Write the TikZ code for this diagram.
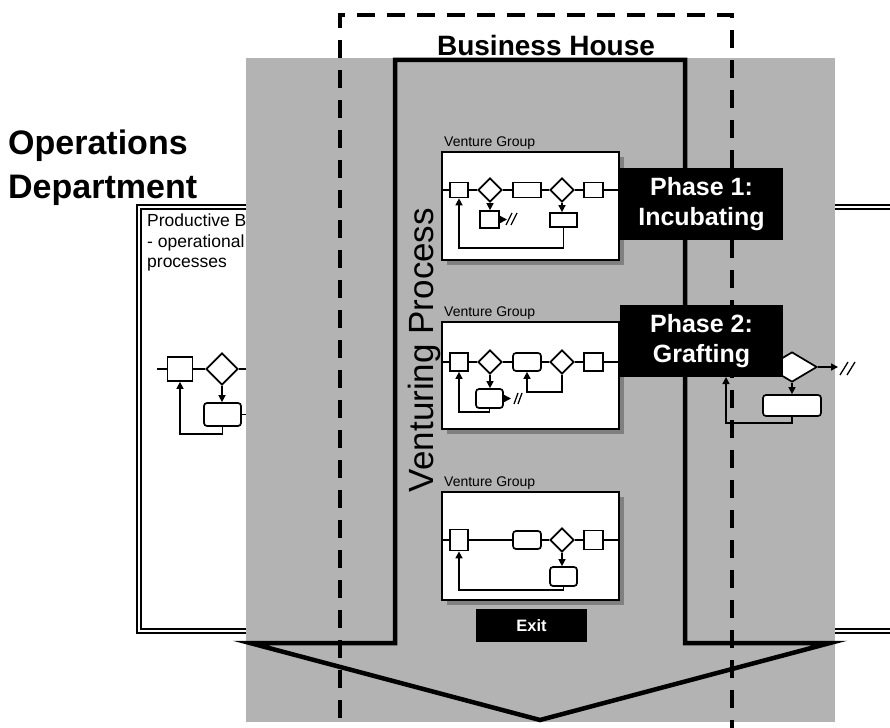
\documentclass[tikz,border=0pt]{standalone}
\usepackage{fontspec}
\setmainfont{Liberation Sans}
\usetikzlibrary{arrows.meta,shapes.geometric}
\definecolor{bggray}{RGB}{179,179,179}
\definecolor{shgray}{RGB}{128,128,128}
\newcommand{\fsz}[2]{\fontsize{#1}{#2}\selectfont}
\begin{document}
\begin{tikzpicture}[x=1pt,y=-1pt,
  con/.style={line width=1.4pt},
  arr/.style={line width=1.4pt,-{Triangle[length=7pt,width=7pt]}},
  el/.style={draw,fill=white,line width=1.7pt,inner sep=0pt,rectangle},
  rel/.style={el,rounded corners=3pt},
  dia/.style={draw,fill=white,line width=1.7pt,inner sep=0pt,diamond,minimum width=24pt,minimum height=24pt},
  vgbox/.style={draw,fill=white,line width=2.2pt,inner sep=0pt,minimum width=177pt},
  blk/.style={fill=black,text=white,inner sep=0pt,align=center},
  vglabel/.style={anchor=base west,inner sep=0pt,font=\fsz{14}{16}},
  sl/.style={line width=1.3pt}
]
\clip (0,0) rectangle (890,727);
\fill[white] (0,0) rectangle (890,727);

% ---------- Operations department box ----------
\draw[line width=1.8pt,double=white,double distance=1.8pt] (139,207) rectangle (905,631);
\node[anchor=north west,inner sep=0pt,align=left,font=\fsz{17.5}{20.5}] (pbase) at (147,214)
  {Productive Base:\\- operational\\processes};

% left process
\coordinate (lin) at (157,369);
\node[el,minimum width=25pt,minimum height=24pt] (ls) at (180,369) {};
\node[dia,minimum width=32pt,minimum height=32pt] (ld) at (222,369) {};
\node[rel,minimum width=37pt,minimum height=23pt] (lb) at (222.5,414.5) {};
\coordinate (lout) at (262,369);
\coordinate (lbo) at (253,414.5);
\draw[con] (lin) -- (ls.west);
\draw[con] (ls.east) -- (ld.west);
\draw[con] (ld.east) -- (lout);
\draw[arr] (ld.south) -- (ld.south |- lb.north);
\draw[arr] (lb.east) -- (lbo);
\draw[arr] (lb.south) -- ++(0,7) -| (ls.south);

% ---------- gray band ----------
\fill[bggray] (246,58) rectangle (835,722);

% ---------- Business house arrow ----------
\draw[line width=4.5pt,fill=bggray,miter limit=12] (395,60) -- (685,60) -- (685,643) -- (830,643)
  -- (540,720) -- (250,643) -- (395,643) -- cycle;

% ---------- Venture group 1 ----------
\fill[shgray] (447,157) rectangle (624,265);
\node[vgbox,minimum height=108pt] (vg1) at (530.5,206) {};
\node[vglabel] (vgl1) at (444,146.5) {Venture Group};
\node[el,minimum width=18pt,minimum height=15pt] (a1) at (459,190) {};
\node[dia] (a2) at (490,190) {};
\node[el,minimum width=28pt,minimum height=15pt] (a3) at (527,190) {};
\node[dia] (a4) at (562,190) {};
\node[el,minimum width=19pt,minimum height=15pt] (a5) at (593.5,190) {};
\node[el,minimum width=19pt,minimum height=17pt] (a6) at (489.5,219.5) {};
\node[el,minimum width=27pt,minimum height=14pt] (a7) at (563.5,220) {};
\coordinate (a6o) at (507,219.5);
\draw[con] (vg1.west |- a1.west) -- (a1.west);
\draw[con] (a1.east) -- (a2.west);
\draw[con] (a2.east) -- (a3.west);
\draw[con] (a3.east) -- (a4.west);
\draw[con] (a4.east) -- (a5.west);
\draw[con] (a5.east) -- (vg1.east |- a5.east);
\draw[arr] (a2.south) -- (a2.south |- a6.north);
\draw[arr] (a4.south) -- (a4.south |- a7.north);
\draw[arr] (a6.east) -- (a6o);
\draw[sl] (506,225) -- (512,213);
\draw[sl] (511,225) -- (517,213);
\draw[arr] (a7.south) -- ++(0,20) -| (a1.south);

% ---------- Venture group 2 ----------
\fill[shgray] (447,327) rectangle (624,434);
\node[vgbox,minimum height=107pt] (vg2) at (530.5,375.5) {};
\node[vglabel] (vgl2) at (444,316) {Venture Group};
\node[el,minimum width=18pt,minimum height=18pt] (b1) at (459,362) {};
\node[dia] (b2) at (490,362) {};
\node[rel,minimum width=28pt,minimum height=18pt] (b3) at (527,362) {};
\node[dia] (b4) at (562,362) {};
\node[el,minimum width=19pt,minimum height=18pt] (b5) at (593.5,362) {};
\node[rel,minimum width=27pt,minimum height=19pt] (b6) at (489.5,398.5) {};
\coordinate (b6o) at (511,398.5);
\draw[con] (vg2.west |- b1.west) -- (b1.west);
\draw[con] (b1.east) -- (b2.west);
\draw[con] (b2.east) -- (b3.west);
\draw[con] (b3.east) -- (b4.west);
\draw[con] (b4.east) -- (b5.west);
\draw[con] (b5.east) -- (vg2.east |- b5.east);
\draw[arr] (b2.south) -- (b2.south |- b6.north);
\draw[arr] (b6.east) -- (b6o);
\draw[sl] (514,404) -- (518,393);
\draw[sl] (518,404) -- (522,393);
\draw[arr] (b4.south) -- ++(0,17) -| (b3.south);
\draw[arr] (b6.south) -- ++(0,3) -| (b1.south);

% ---------- Venture group 3 ----------
\fill[shgray] (447,497) rectangle (624,605);
\node[vgbox,minimum height=108pt] (vg3) at (530.5,546) {};
\node[vglabel] (vgl3) at (444,486) {Venture Group};
\node[el,minimum width=18pt,minimum height=21pt] (c1) at (459,540) {};
\node[rel,minimum width=28pt,minimum height=18pt] (c3) at (527,540) {};
\node[dia] (c4) at (562,540) {};
\node[el,minimum width=19pt,minimum height=19pt] (c5) at (593.5,540) {};
\node[rel,minimum width=27pt,minimum height=19pt] (c6) at (563.5,576.5) {};
\draw[con] (vg3.west |- c1.west) -- (c1.west);
\draw[con] (c1.east) -- (c3.west);
\draw[con] (c3.east) -- (c4.west);
\draw[con] (c4.east) -- (c5.west);
\draw[con] (c5.east) -- (vg3.east |- c5.east);
\draw[arr] (c4.south) -- (c4.south |- c6.north);
\draw[arr] (c6.south) -- ++(0,3) -| (c1.south);

% ---------- Exit ----------
\node[blk,minimum width=111pt,minimum height=33pt,font=\bfseries\fsz{16.5}{18}] (exit) at (531.5,625.5) {Exit};

% ---------- right process ----------
\node[dia,minimum width=50pt,minimum height=30pt] (rd) at (792,367) {};
\node[rel,minimum width=58pt,minimum height=21pt] (rb) at (792,405.5) {};
\coordinate (rdo) at (838,367);
\coordinate (rfb) at (726,377);
\draw[arr] (rd.east) -- (rdo);
\draw[sl] (840,375) -- (848,362);
\draw[sl] (847,375) -- (855,362);
\draw[arr] (rd.south) -- (rb.north);
\draw[arr] (rb.south) -- ++(0,6) -| (rfb);

% ---------- dashed business house frame ----------
\draw[line width=4.5pt,dash pattern=on 18pt off 12pt,dash phase=8pt] (340,740) -- (340,15) -- (732,15) -- (732,740);

% ---------- phase boxes ----------
\node[blk,minimum width=163pt,minimum height=71pt,font=\bfseries\fsz{25}{30}] (ph1) at (701.5,204) {Phase 1:\\Incubating};
\node[blk,minimum width=163pt,minimum height=72pt,font=\bfseries\fsz{25}{30}] (ph2) at (701.5,341) {Phase 2:\\Grafting};

% ---------- titles ----------
\node[rotate=90,inner sep=0pt,font=\fsz{35}{35}] (vp) at (424,350) {Venturing Process};
\node[anchor=base,inner sep=0pt,font=\bfseries\fsz{28}{30}] (bh) at (546,56) {Business House};
\node[anchor=north west,inner sep=0pt,align=left,font=\bfseries\fsz{34}{44}] (od) at (8,130) {Operations\\Department};
\end{tikzpicture}
\end{document}
